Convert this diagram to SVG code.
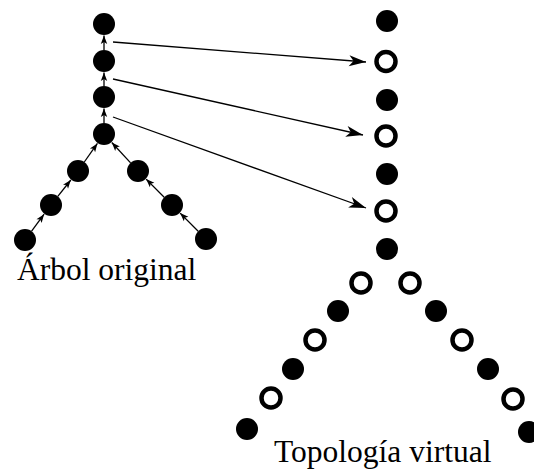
<svg xmlns="http://www.w3.org/2000/svg" width="534" height="471" viewBox="0 0 534 471">
  <style>
    .full { fill: #000; }
    .ring { fill: #fff; stroke: #000; stroke-width: 4.5; }
    .edge { fill: none; stroke: #000; stroke-width: 1.3; }
    .map { fill: none; stroke: #000; stroke-width: 1.3; marker-end: url(#bigHead); }
    .tree { marker-end: url(#smallHead); }
    .label { font-family: "Liberation Serif", "Times New Roman", serif; font-size: 31.5px; fill: #000; }
  </style>
  <defs>
    <marker id="bigHead" markerUnits="userSpaceOnUse" viewBox="-18 -7 20 14" markerWidth="20" markerHeight="14" refX="0" refY="0" orient="auto">
      <path d="M0,0 L-17,-5.5 L-12.5,0 L-17,5.5 Z" fill="#000"/>
    </marker>
    <marker id="smallHead" markerUnits="userSpaceOnUse" viewBox="-10 -5 12 10" markerWidth="12" markerHeight="10" refX="0" refY="0" orient="auto">
      <path d="M0,0 L-8.5,-3.2 L-6.5,0 L-8.5,3.2 Z" fill="#000"/>
    </marker>
  </defs>

  <!-- connectors -->
  <g id="connectors">
    <!-- original tree: child to parent -->
    <line class="edge tree" x1="104" y1="50" x2="104" y2="35.5"/>
    <line class="edge tree" x1="104" y1="86" x2="104" y2="72.5"/>
    <line class="edge tree" x1="104" y1="123" x2="104" y2="108.5"/>
    <line class="edge tree" x1="84.3" y1="162" x2="97.4" y2="143.4"/>
    <line class="edge tree" x1="57.8" y1="196.4" x2="70.8" y2="180"/>
    <line class="edge tree" x1="31.6" y1="231.2" x2="44.1" y2="214.2"/>
    <line class="edge tree" x1="130.6" y1="162.9" x2="111.8" y2="142.5"/>
    <line class="edge tree" x1="164.2" y1="197.2" x2="146.1" y2="179.1"/>
    <line class="edge tree" x1="198.2" y1="231.2" x2="180.1" y2="213.1"/>
    <!-- edges mapped onto virtual nodes -->
    <line class="map" x1="113" y1="42" x2="366" y2="62"/>
    <line class="map" x1="113" y1="79" x2="363" y2="135"/>
    <line class="map" x1="113" y1="117" x2="366" y2="208"/>
  </g>

  <!-- original tree nodes -->
  <g id="tree">
    <g id="t1"><circle class="full" cx="104" cy="24" r="11"/></g>
    <g id="t2"><circle class="full" cx="104" cy="61" r="11"/></g>
    <g id="t3"><circle class="full" cx="104" cy="97" r="11"/></g>
    <g id="t4"><circle class="full" cx="104" cy="134" r="11"/></g>
    <g id="t5"><circle class="full" cx="78" cy="171" r="11"/></g>
    <g id="t6"><circle class="full" cx="51" cy="205" r="11"/></g>
    <g id="t7"><circle class="full" cx="25" cy="240" r="11"/></g>
    <g id="t8"><circle class="full" cx="138" cy="171" r="11"/></g>
    <g id="t9"><circle class="full" cx="172" cy="205" r="11"/></g>
    <g id="t10"><circle class="full" cx="206" cy="239" r="11"/></g>
  </g>

  <!-- virtual topology nodes -->
  <g id="virtual">
    <g id="v1"><circle class="full" cx="387" cy="21" r="11"/></g>
    <g id="v2"><circle class="ring" cx="386" cy="61.5" r="9.5"/></g>
    <g id="v3"><circle class="full" cx="387" cy="100" r="11"/></g>
    <g id="v4"><circle class="ring" cx="386" cy="136" r="9.5"/></g>
    <g id="v5"><circle class="full" cx="387" cy="174" r="11"/></g>
    <g id="v6"><circle class="ring" cx="386" cy="211" r="9.5"/></g>
    <g id="v7"><circle class="full" cx="387" cy="249" r="11"/></g>
    <!-- left branch -->
    <g id="v8"><circle class="ring" cx="361" cy="283" r="9.5"/></g>
    <g id="v9"><circle class="full" cx="338" cy="311" r="11"/></g>
    <g id="v10"><circle class="ring" cx="315" cy="340" r="9.5"/></g>
    <g id="v11"><circle class="full" cx="293" cy="369" r="11"/></g>
    <g id="v12"><circle class="ring" cx="271" cy="398" r="9.5"/></g>
    <g id="v13"><circle class="full" cx="247" cy="429" r="11"/></g>
    <!-- right branch -->
    <g id="v14"><circle class="ring" cx="410" cy="283" r="9.5"/></g>
    <g id="v15"><circle class="full" cx="436" cy="311" r="11"/></g>
    <g id="v16"><circle class="ring" cx="462" cy="340" r="9.5"/></g>
    <g id="v17"><circle class="full" cx="488" cy="369" r="11"/></g>
    <g id="v18"><circle class="ring" cx="513" cy="399" r="9.5"/></g>
    <g id="v19"><circle class="full" cx="529" cy="432" r="11"/></g>
  </g>

  <g id="labels">
    <text class="label" x="17" y="280">Árbol original</text>
    <text class="label" x="274" y="462">Topología virtual</text>
  </g>
</svg>
